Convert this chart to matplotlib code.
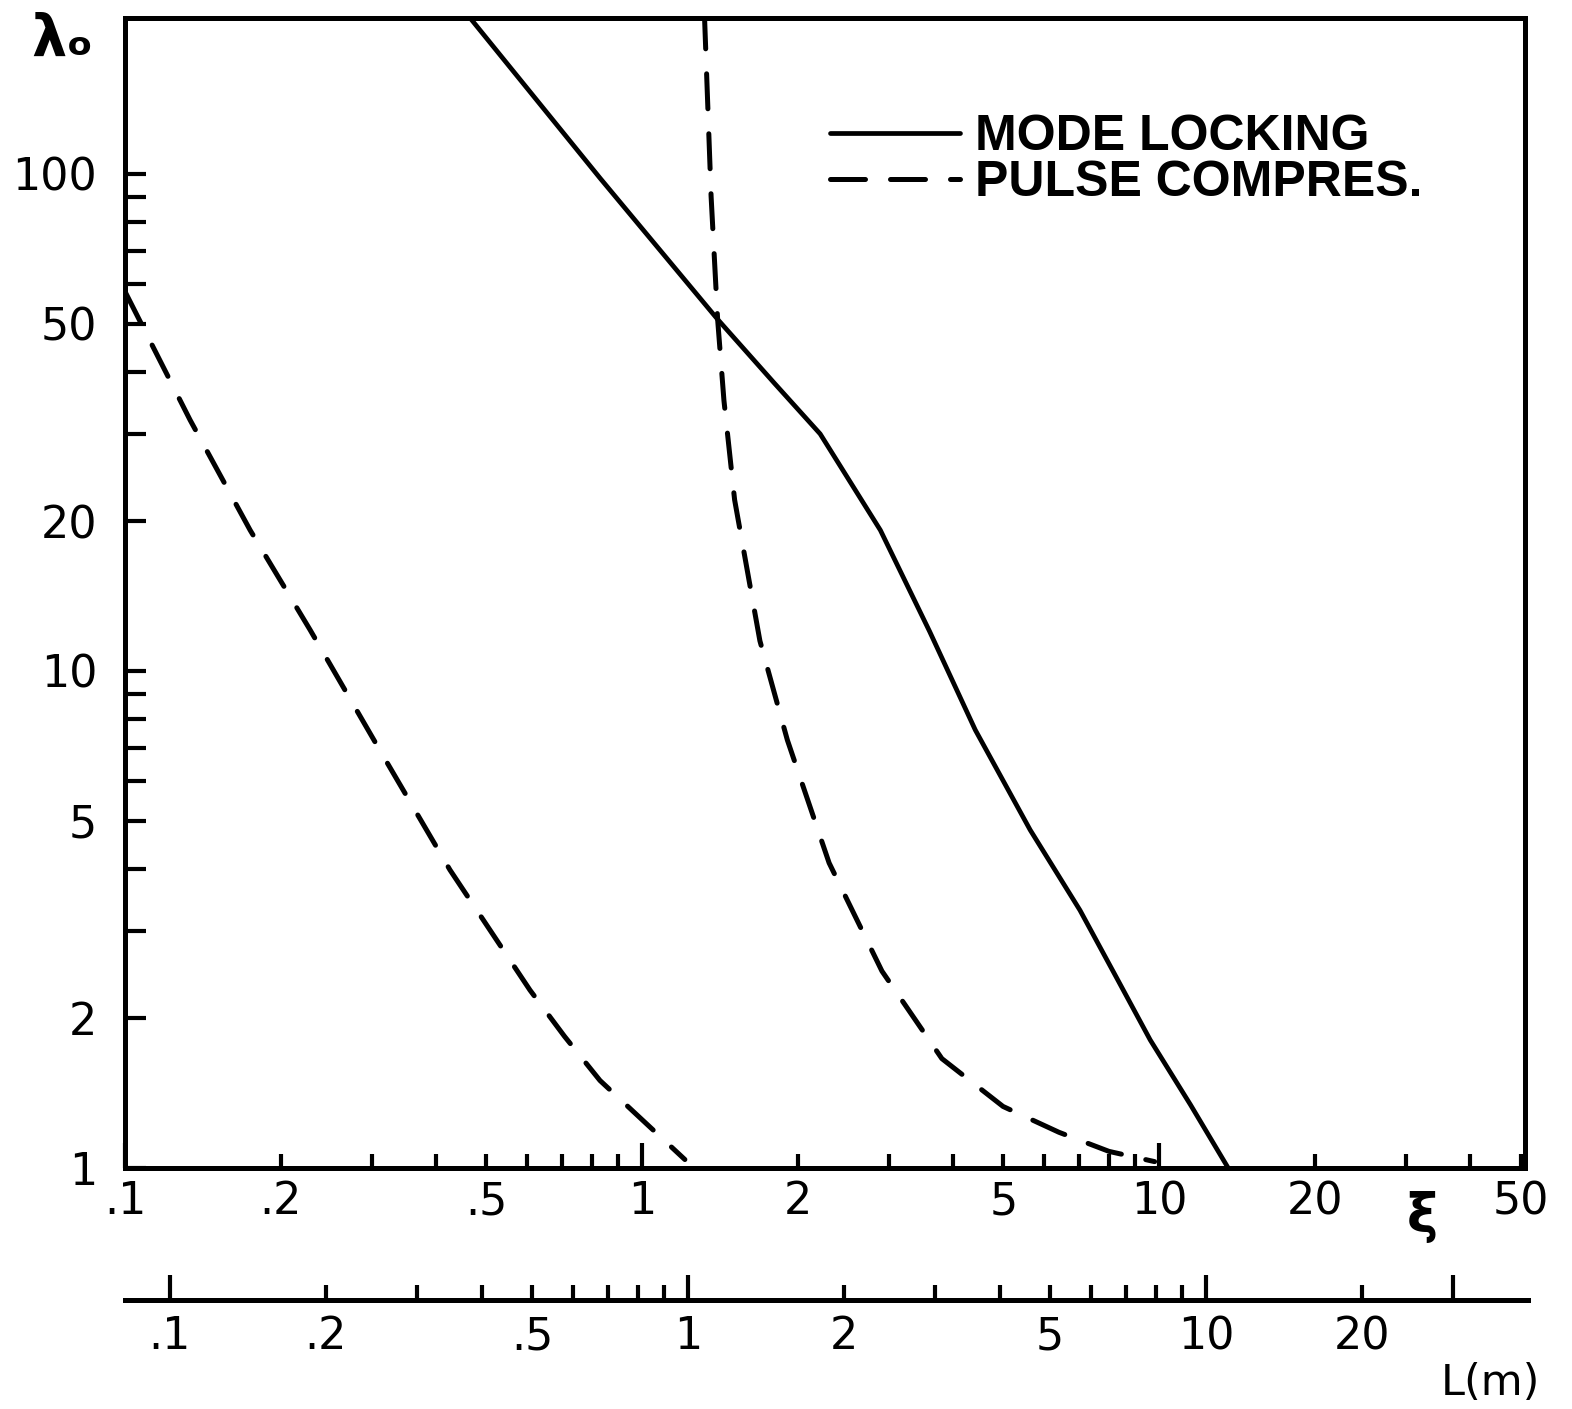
import matplotlib.pyplot as plt
from matplotlib.ticker import FixedLocator, FixedFormatter

# mode locking (solid)
xi_ml = [0.465, 0.83, 1.40, 1.8, 2.21, 2.89, 3.6, 4.41, 5.63, 7.03, 8.3, 9.61, 11.5, 13.6]
lam_ml = [206, 98, 51, 38, 30.0, 19.2, 12.0, 7.61, 4.79, 3.30, 2.40, 1.81, 1.34, 1.0]

# pulse compression, left branch (dashed)
xi_pc1 = [0.1, 0.1336, 0.1746, 0.228, 0.311, 0.425, 0.607, 0.708, 0.829, 1.21]
lam_pc1 = [58, 32.0, 19.2, 12.1, 6.93, 3.98, 2.28, 1.84, 1.50, 1.04]

# pulse compression, right branch (dashed)
xi_pc2 = [1.32, 1.36, 1.40, 1.44, 1.51, 1.69, 1.91, 2.30, 2.91, 3.80, 4.99, 6.4, 8.0, 9.8]
lam_pc2 = [210, 90, 51, 35, 22.1, 11.5, 7.26, 4.11, 2.49, 1.66, 1.33, 1.18, 1.08, 1.03]

x_major = [0.1, 1, 10]
x_major_lab = ['.1', '1', '10']
x_minor = [0.2, 0.3, 0.4, 0.5, 0.6, 0.7, 0.8, 0.9, 2, 3, 4, 5, 6, 7, 8, 9, 20, 30, 40, 50]
x_minor_lab = ['.2', '', '', '.5', '', '', '', '', '2', '', '', '5', '', '', '', '',
               '20', '', '', '50']

y_major = [1, 2, 5, 10, 20, 50, 100]
y_major_lab = ['1', '2', '5', '10', '20', '50', '100']
y_minor = [3, 4, 6, 7, 8, 9, 30, 40, 60, 70, 80, 90]

L_major = [0.1, 1, 10, 30]
L_major_lab = ['.1', '1', '10', '']
L_minor = [0.2, 0.3, 0.4, 0.5, 0.6, 0.7, 0.8, 0.9, 2, 3, 4, 5, 6, 7, 8, 9, 20]
L_minor_lab = ['.2', '', '', '.5', '', '', '', '', '2', '', '', '5', '', '', '', '', '20']
L_per_xi = 1.22

W, H = 1572, 1409
lw = 3.6
fs = 32

fig = plt.figure(figsize=(W / 100, H / 100), dpi=100)
ax = fig.add_axes([125 / W, 1 - 1168 / H, 1400 / W, 1150 / H])
ax.set_xscale('log')
ax.set_yscale('log')

ax.plot(xi_ml, lam_ml, color='black', lw=3.4, solid_capstyle='round',
        solid_joinstyle='round', label='MODE LOCKING')
ax.plot(xi_pc1, lam_pc1, color='black', lw=lw, dashes=(7, 5),
        dash_capstyle='round', label='PULSE COMPRES.')
ax.plot(xi_pc2, lam_pc2, color='black', lw=lw, dashes=(7, 5),
        dash_capstyle='round')

ax.set_xlim(0.1, 51)
ax.set_ylim(1, 206)

for s in ax.spines.values():
    s.set_linewidth(lw)

ax.xaxis.set_major_locator(FixedLocator(x_major))
ax.xaxis.set_major_formatter(FixedFormatter(x_major_lab))
ax.xaxis.set_minor_locator(FixedLocator(x_minor))
ax.xaxis.set_minor_formatter(FixedFormatter(x_minor_lab))
ax.yaxis.set_major_locator(FixedLocator(y_major))
ax.yaxis.set_major_formatter(FixedFormatter(y_major_lab))
ax.yaxis.set_minor_locator(FixedLocator(y_minor))
ax.yaxis.set_minor_formatter(FixedFormatter([''] * len(y_minor)))

ax.tick_params(axis='x', which='major', direction='in', length=18, width=3,
               labelsize=fs, pad=9)
ax.tick_params(axis='x', which='minor', direction='in', length=10, width=3,
               labelsize=fs, pad=9)
ax.tick_params(axis='y', which='both', direction='in', length=15, width=3,
               labelsize=fs, pad=20)

ax.legend(loc='upper left', bbox_to_anchor=(830 / W, 1 - 114 / H),
          bbox_transform=fig.transFigure, frameon=False, borderpad=0,
          borderaxespad=0, handlelength=2.6, handletextpad=0.3,
          labelspacing=0.0,
          prop={'family': 'Liberation Sans', 'weight': 'bold', 'size': 36})

# second scale: fibre length L
ax2 = fig.add_axes([125 / W, 1 - 1300 / H, 1403 / W, 1e-4])
ax2.set_xscale('log')
ax2.set_xlim(0.1 / L_per_xi, 51 / L_per_xi)
ax2.patch.set_visible(False)
for side in ['top', 'left', 'right']:
    ax2.spines[side].set_visible(False)
ax2.spines['bottom'].set_linewidth(lw)
ax2.set_yticks([])
ax2.xaxis.set_major_locator(FixedLocator(L_major))
ax2.xaxis.set_major_formatter(FixedFormatter(L_major_lab))
ax2.xaxis.set_minor_locator(FixedLocator(L_minor))
ax2.xaxis.set_minor_formatter(FixedFormatter(L_minor_lab))
ax2.tick_params(axis='x', which='major', direction='in', length=18, width=3,
                labelsize=fs, pad=11)
ax2.tick_params(axis='x', which='minor', direction='in', length=11, width=3,
                labelsize=fs, pad=11)

fig.text(62 / W, 1 - 40 / H, 'λₒ', fontsize=40, fontweight='bold',
         ha='center', va='center')
fig.text(1422 / W, 1 - 1217 / H, 'ξ', fontsize=38, fontweight='bold',
         ha='center', va='center')
fig.text(1490 / W, 1 - 1383 / H, 'L(m)', fontsize=31,
         ha='center', va='center')

fig.savefig('out.png', dpi=100)
